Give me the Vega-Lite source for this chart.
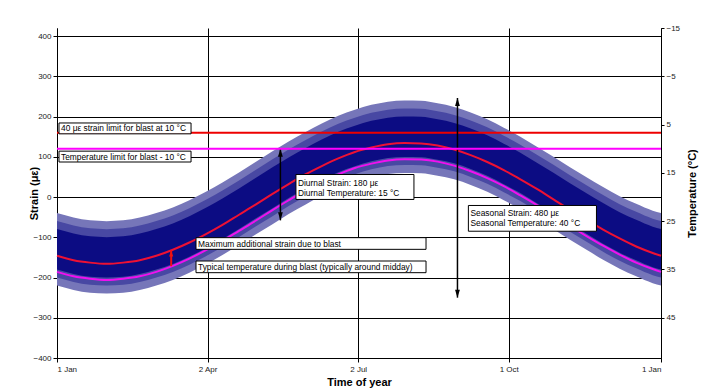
{
  "$schema": "https://vega.github.io/schema/vega-lite/v6.json",
  "width": 604,
  "height": 330,
  "autosize": {"type": "none"},
  "padding": {"left": 57, "top": 28, "right": 56, "bottom": 34},
  "background": "white",
  "config": {
    "view": {"stroke": null},
    "font": "Liberation Sans",
    "axis": {
      "domainColor": "#000", "domainWidth": 1, "tickColor": "#000", "tickWidth": 1,
      "gridColor": "#000", "gridWidth": 1, "gridOpacity": 1,
      "labelFont": "Liberation Sans", "labelFontSize": 8, "labelColor": "#222",
      "titleFont": "Liberation Sans", "titleFontSize": 11, "titleFontWeight": "bold", "titleColor": "#000"
    }
  },
  "datasets": {
    "curves": [
      {"day": 0, "hi": -40, "lo": -220, "red": -146, "mag": -186},
      {"day": 10, "hi": -51, "lo": -231, "red": -157, "mag": -197},
      {"day": 20, "hi": -58, "lo": -238, "red": -163, "mag": -203},
      {"day": 30, "hi": -60, "lo": -240, "red": -166, "mag": -206},
      {"day": 40, "hi": -58, "lo": -238, "red": -163, "mag": -203},
      {"day": 50, "hi": -51, "lo": -231, "red": -157, "mag": -197},
      {"day": 60, "hi": -40, "lo": -220, "red": -146, "mag": -186},
      {"day": 70, "hi": -26, "lo": -206, "red": -131, "mag": -171},
      {"day": 80, "hi": -8, "lo": -188, "red": -113, "mag": -153},
      {"day": 90, "hi": 13, "lo": -167, "red": -92, "mag": -132},
      {"day": 100, "hi": 36, "lo": -144, "red": -69, "mag": -109},
      {"day": 110, "hi": 61, "lo": -119, "red": -44, "mag": -84},
      {"day": 120, "hi": 87, "lo": -93, "red": -19, "mag": -59},
      {"day": 130, "hi": 113, "lo": -68, "red": 7, "mag": -33},
      {"day": 140, "hi": 138, "lo": -42, "red": 32, "mag": -8},
      {"day": 150, "hi": 161, "lo": -19, "red": 56, "mag": 16},
      {"day": 160, "hi": 183, "lo": 3, "red": 77, "mag": 37},
      {"day": 170, "hi": 202, "lo": 22, "red": 96, "mag": 56},
      {"day": 180, "hi": 217, "lo": 37, "red": 112, "mag": 72},
      {"day": 190, "hi": 229, "lo": 49, "red": 123, "mag": 83},
      {"day": 200, "hi": 237, "lo": 57, "red": 131, "mag": 91},
      {"day": 210, "hi": 240, "lo": 60, "red": 134, "mag": 94},
      {"day": 220, "hi": 239, "lo": 59, "red": 133, "mag": 93},
      {"day": 230, "hi": 233, "lo": 53, "red": 128, "mag": 88},
      {"day": 240, "hi": 224, "lo": 44, "red": 118, "mag": 78},
      {"day": 250, "hi": 210, "lo": 30, "red": 104, "mag": 64},
      {"day": 260, "hi": 193, "lo": 13, "red": 87, "mag": 47},
      {"day": 270, "hi": 172, "lo": -8, "red": 67, "mag": 27},
      {"day": 280, "hi": 150, "lo": -30, "red": 44, "mag": 4},
      {"day": 290, "hi": 125, "lo": -55, "red": 20, "mag": -20},
      {"day": 300, "hi": 100, "lo": -80, "red": -6, "mag": -46},
      {"day": 310, "hi": 74, "lo": -106, "red": -32, "mag": -72},
      {"day": 320, "hi": 49, "lo": -131, "red": -57, "mag": -97},
      {"day": 330, "hi": 25, "lo": -156, "red": -81, "mag": -121},
      {"day": 340, "hi": 2, "lo": -178, "red": -103, "mag": -143},
      {"day": 350, "hi": -17, "lo": -197, "red": -123, "mag": -163},
      {"day": 360, "hi": -34, "lo": -214, "red": -139, "mag": -179},
      {"day": 365, "hi": -40, "lo": -220, "red": -146, "mag": -186}
    ],
    "arrows": [
      {"day": 242, "lo": -250, "hi": 246},
      {"day": 135, "lo": -58, "hi": 120}
    ],
    "blastArrow": [
      {"day": 69, "lo": -172, "hi": -133}
    ],
    "boxes": [
      {"d1": 1.2, "d2": 81, "s1": 184, "s2": 157},
      {"d1": 1.2, "d2": 81, "s1": 114, "s2": 87},
      {"d1": 144.4, "d2": 215.7, "s1": 56, "s2": -6},
      {"d1": 248.6, "d2": 326, "s1": -21, "s2": -85},
      {"d1": 84, "d2": 223, "s1": -101, "s2": -130},
      {"d1": 84, "d2": 223, "s1": -159, "s2": -188}
    ],
    "notes": [
      {"day": 1.2, "strain": 170.5, "text": "40 με strain limit for blast at 10 °C"},
      {"day": 1.2, "strain": 100.5, "text": "Temperature limit for blast - 10 °C"},
      {"day": 144.4, "strain": 36, "text": ["Diurnal Strain: 180 με", "Diurnal Temperature: 15 °C"]},
      {"day": 248.6, "strain": -40, "text": ["Seasonal Strain: 480 με", "Seasonal Temperature: 40 °C"]},
      {"day": 84, "strain": -115.5, "text": "Maximum additional strain due to blast"},
      {"day": 84, "strain": -173.5, "text": "Typical temperature during blast (typically around midday)"}
    ]
  },
  "resolve": {"scale": {"y": "independent"}},
  "layer": [
    {
      "layer": [
        {
          "data": {"name": "curves"},
          "mark": {"type": "area", "color": "#7676b9", "interpolate": "monotone"},
          "encoding": {
            "x": {
              "field": "day", "type": "quantitative",
              "scale": {"domain": [0, 365], "nice": false, "zero": false},
              "axis": {
                "values": [0, 91, 182, 273, 365],
                "labelExpr": "datum.value == 91 ? '2 Apr' : datum.value == 182 ? '2 Jul' : datum.value == 273 ? '1 Oct' : '1 Jan'",
                "title": "Time of year", "grid": true, "tickSize": 4, "labelPadding": 3, "titlePadding": 3
              }
            },
            "y": {
              "field": "hi", "type": "quantitative",
              "scale": {"domain": [-400, 420], "nice": false, "zero": false},
              "axis": {
                "orient": "left",
                "values": [-400, -300, -200, -100, 0, 100, 200, 300, 400],
                "title": "Strain (με)", "grid": true, "tickSize": 4, "labelPadding": 2,
                "titleAngle": 270, "titleX": -23, "titleY": 165, "titleBaseline": "middle", "titleAlign": "center"
              }
            },
            "y2": {"field": "lo"}
          }
        },
        {
          "data": {"name": "curves"},
          "mark": {"type": "area", "color": "#4848a3", "interpolate": "monotone", "yOffset": 8, "y2Offset": -8},
          "encoding": {
            "x": {"field": "day", "type": "quantitative"},
            "y": {"field": "hi", "type": "quantitative"},
            "y2": {"field": "lo"}
          }
        },
        {
          "data": {"name": "curves"},
          "mark": {"type": "area", "color": "#0c0c83", "interpolate": "monotone", "yOffset": 16, "y2Offset": -16},
          "encoding": {
            "x": {"field": "day", "type": "quantitative"},
            "y": {"field": "hi", "type": "quantitative"},
            "y2": {"field": "lo"}
          }
        },
        {
          "data": {"name": "curves"},
          "mark": {"type": "line", "color": "#ee1133", "strokeWidth": 2, "interpolate": "monotone"},
          "encoding": {
            "x": {"field": "day", "type": "quantitative"},
            "y": {"field": "red", "type": "quantitative"}
          }
        },
        {
          "data": {"name": "curves"},
          "mark": {"type": "line", "color": "#f010f0", "strokeWidth": 2, "interpolate": "monotone"},
          "encoding": {
            "x": {"field": "day", "type": "quantitative"},
            "y": {"field": "mag", "type": "quantitative"}
          }
        },
        {
          "data": {"values": [{"strain": 160}]},
          "mark": {"type": "rule", "color": "#ee0000", "strokeWidth": 2},
          "encoding": {
            "y": {"field": "strain", "type": "quantitative"}
          }
        },
        {
          "data": {"name": "arrows"},
          "mark": {"type": "rule", "color": "#000", "strokeWidth": 1.5},
          "encoding": {
            "x": {"field": "day", "type": "quantitative"},
            "y": {"field": "lo", "type": "quantitative"},
            "y2": {"field": "hi"}
          }
        },
        {
          "data": {"name": "arrows"},
          "mark": {"type": "point", "shape": "M0,0L-0.6,2L0.6,2Z", "size": 64, "filled": true, "color": "#000", "opacity": 1},
          "encoding": {
            "x": {"field": "day", "type": "quantitative"},
            "y": {"field": "hi", "type": "quantitative"}
          }
        },
        {
          "data": {"name": "arrows"},
          "mark": {"type": "point", "shape": "M0,0L-0.6,-2L0.6,-2Z", "size": 64, "filled": true, "color": "#000", "opacity": 1},
          "encoding": {
            "x": {"field": "day", "type": "quantitative"},
            "y": {"field": "lo", "type": "quantitative"}
          }
        },
        {
          "data": {"name": "blastArrow"},
          "mark": {"type": "rule", "color": "#ee1111", "strokeWidth": 2},
          "encoding": {
            "x": {"field": "day", "type": "quantitative"},
            "y": {"field": "lo", "type": "quantitative"},
            "y2": {"field": "hi"}
          }
        },
        {
          "data": {"name": "blastArrow"},
          "mark": {"type": "point", "shape": "M0,0L-0.7,2L0.7,2Z", "size": 36, "filled": true, "color": "#ee1111", "opacity": 1},
          "encoding": {
            "x": {"field": "day", "type": "quantitative"},
            "y": {"field": "hi", "type": "quantitative"}
          }
        },
        {
          "data": {"name": "boxes"},
          "mark": {"type": "rect", "fill": "white", "stroke": "#000", "strokeWidth": 1},
          "encoding": {
            "x": {"field": "d1", "type": "quantitative"},
            "x2": {"field": "d2"},
            "y": {"field": "s1", "type": "quantitative"},
            "y2": {"field": "s2"}
          }
        },
        {
          "data": {"name": "notes"},
          "mark": {"type": "text", "align": "left", "baseline": "middle", "dx": 2, "font": "Liberation Sans", "fontSize": 8.4, "color": "#000", "lineHeight": 10},
          "encoding": {
            "x": {"field": "day", "type": "quantitative"},
            "y": {"field": "strain", "type": "quantitative"},
            "text": {"field": "text"}
          }
        }
      ]
    },
    {
      "data": {"values": [{"temp": 10}]},
      "mark": {"type": "rule", "color": "#ff00ff", "strokeWidth": 2},
      "encoding": {
        "y": {
          "field": "temp", "type": "quantitative",
          "scale": {"domain": [-15, 53.333], "nice": false, "zero": false, "reverse": true},
          "axis": {
            "orient": "right",
            "values": [-15, -5, 5, 15, 25, 35, 45],
            "title": "Temperature (°C)", "grid": false, "tickSize": 3, "labelPadding": 2,
            "titleAngle": 270, "titleX": 31, "titleY": 165, "titleBaseline": "middle", "titleAlign": "center"
          }
        }
      }
    }
  ]
}
